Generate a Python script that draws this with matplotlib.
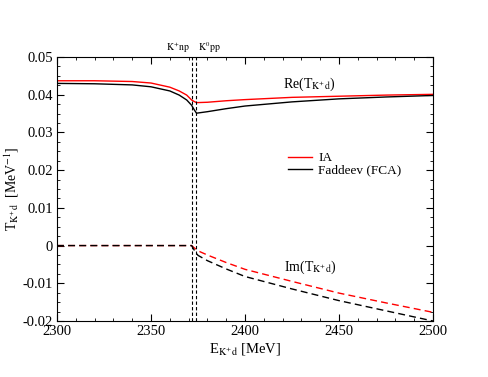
import numpy as np
import matplotlib
matplotlib.use('Agg')
import matplotlib.pyplot as plt
from matplotlib.ticker import MultipleLocator

plt.rcParams['font.family'] = ['Liberation Serif', 'DejaVu Serif']
plt.rcParams['mathtext.fontset'] = 'stix'

# thresholds (MeV)
thr_knp = 2371.6
thr_kpp = 2374.2

e_re = [2300, 2320, 2340, 2350, 2360, 2365, 2369, 2371.6, 2373, 2374.2, 2380, 2390, 2400, 2425, 2450, 2475, 2500]
re_ia = [0.0437, 0.0437, 0.0435, 0.0431, 0.0420, 0.0410, 0.0399, 0.0386, 0.0382, 0.0379, 0.0380, 0.0384, 0.0387, 0.0393, 0.0396, 0.0399, 0.0401]
re_fad = [0.0430, 0.0429, 0.0426, 0.0421, 0.0410, 0.0399, 0.0386, 0.0372, 0.0360, 0.0351, 0.0355, 0.0363, 0.0370, 0.0381, 0.0389, 0.0394, 0.0398]

# imaginary parts
e_im = [2300, 2371.6, 2373, 2375, 2380, 2390, 2400, 2425, 2450, 2475, 2500]
im_ia = [0.0, 0.0, -0.0006, -0.0014, -0.0025, -0.0045, -0.0063, -0.0095, -0.0126, -0.0152, -0.0177]
im_fad = [0.0, 0.0, -0.0012, -0.0026, -0.0040, -0.0062, -0.0082, -0.0115, -0.0146, -0.0173, -0.0200]

fig = plt.figure(figsize=(4.88, 3.77), dpi=100)
ax = fig.add_axes([57 / 488, 56 / 377, 376 / 488, 264 / 377])

ax.plot(e_re, re_ia, color='red', lw=1.0, label='IA')
ax.plot(e_re, re_fad, color='black', lw=1.0, label='Faddeev (FCA)')
ax.plot(e_im, im_ia, color='red', lw=1.0, ls=(0, (5, 3)))
ax.plot(e_im, im_fad, color='black', lw=1.0, ls=(0, (5, 3)))

ax.axvline(thr_knp, color='black', lw=0.8, ls=(0, (3, 2)))
ax.axvline(thr_kpp, color='black', lw=0.8, ls=(0, (3, 2)))

ax.text(thr_knp - 0.8, 1.006, '$\\mathrm{K^{+}np}$', transform=ax.get_xaxis_transform(),
        ha='right', va='bottom', fontsize=7)
ax.text(thr_kpp + 0.8, 1.006, '$\\mathrm{K^{0}pp}$', transform=ax.get_xaxis_transform(),
        ha='left', va='bottom', fontsize=7)

ax.text(2420, 0.0418, 'Re(T$_{\\mathrm{K^{+}d}}$)', fontsize=10)
ax.text(2421, -0.0068, 'Im(T$_{\\mathrm{K^{+}d}}$)', fontsize=10)

ax.set_xlim(2300, 2500)
ax.set_ylim(-0.02, 0.05)
ax.xaxis.set_major_locator(MultipleLocator(50))
ax.xaxis.set_minor_locator(MultipleLocator(10))
ax.yaxis.set_major_locator(MultipleLocator(0.01))
ax.yaxis.set_minor_locator(MultipleLocator(0.0025))
ax.set_yticks([0.05, 0.04, 0.03, 0.02, 0.01, 0, -0.01, -0.02])
ax.set_yticklabels(['0.05', '0.04', '0.03', '0.02', '0.01', '0', '-0.01', '-0.02'])
ax.tick_params(which='both', direction='in', top=True, right=True, labelsize=10.5)
ax.tick_params(which='major', length=5, pad=3)
ax.tick_params(which='minor', length=2.5)

ax.set_xlabel('E$_{\\mathrm{K^{+}d}}$ [MeV]', fontsize=10.5, labelpad=2)
ax.set_ylabel('T$_{\\mathrm{K^{+}d}}$  [MeV$^{-1}$]', fontsize=10, labelpad=1)

ax.legend(loc='upper left', bbox_to_anchor=(0.6, 0.66), frameon=False, fontsize=9.5,
          handlelength=1.8, handletextpad=0.5, labelspacing=0.0, borderaxespad=0)

fig.savefig('out.png', dpi=100)
